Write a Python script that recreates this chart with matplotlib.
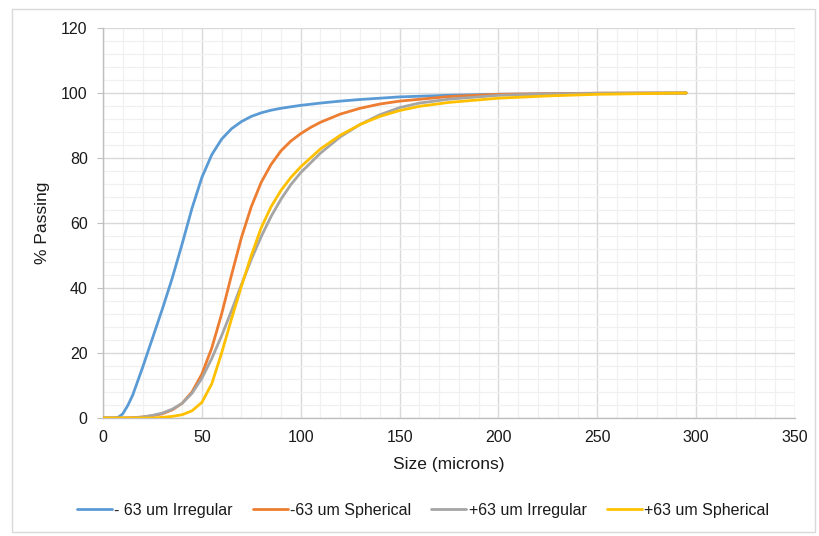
import matplotlib
matplotlib.use("Agg")
import matplotlib.pyplot as plt
from matplotlib.patches import Rectangle
from matplotlib.ticker import MultipleLocator

plt.rcParams['font.family'] = ['Liberation Sans', 'DejaVu Sans']

# particle size distributions
irr_fine_x = [0, 5, 7.5, 10, 12.5, 15, 20, 25, 30, 35, 40, 45, 50, 55, 60, 65, 70,
              75, 80, 85, 90, 100, 110, 120, 130, 140, 150, 175, 200, 250, 295]
irr_fine_y = [0, 0, 0.1, 1.3, 3.8, 7, 15.5, 24.5, 33.5, 43, 53.5, 64.5, 74, 81,
              85.8, 89, 91.2, 92.8, 93.9, 94.7, 95.3, 96.2, 96.9, 97.5, 98, 98.4,
              98.8, 99.3, 99.6, 99.9, 100]

sph_fine_x = [0, 10, 15, 20, 25, 30, 35, 40, 45, 50, 55, 60, 65, 70, 75, 80, 85,
              90, 95, 100, 105, 110, 120, 130, 140, 150, 175, 200, 250, 295]
sph_fine_y = [0, 0, 0.1, 0.3, 0.7, 1.3, 2.5, 4.5, 8, 13.5, 21.5, 32, 44, 55.5, 65,
              72.5, 78, 82.2, 85.2, 87.5, 89.4, 91, 93.5, 95.3, 96.6, 97.5, 98.9,
              99.6, 99.95, 100]

irr_coarse_x = [0, 15, 20, 25, 30, 35, 40, 45, 50, 55, 60, 65, 70, 75, 80, 85, 90,
                95, 100, 110, 120, 130, 140, 150, 160, 175, 200, 225, 250, 295]
irr_coarse_y = [0, 0, 0.3, 0.8, 1.5, 2.7, 4.5, 7.6, 12.2, 18.3, 25.3, 33, 41, 48.8,
                55.8, 62, 67.3, 71.8, 75.5, 81.5, 86.5, 90.3, 93.3, 95.5, 96.9, 98.1,
                99.3, 99.7, 99.9, 100]

sph_coarse_x = [0, 25, 30, 35, 40, 45, 50, 55, 60, 65, 70, 75, 80, 85, 90, 95, 100,
                110, 120, 130, 140, 150, 160, 175, 200, 225, 250, 295]
sph_coarse_y = [0, 0, 0.2, 0.5, 1, 2.2, 4.8, 10.5, 20, 30.5, 40.5, 50, 58.5, 65,
                70, 74, 77.3, 82.8, 87, 90.3, 92.8, 94.6, 95.9, 97.1, 98.4, 99.1,
                99.6, 100]

labels = ['- 63 um Irregular', '-63 um Spherical', '+63 um Irregular', '+63 um Spherical']
colors = ['#5B9BD5', '#ED7D31', '#A5A5A5', '#FFC000']

fig = plt.figure(figsize=(8.19, 5.36), dpi=100)
ax = fig.add_axes([103 / 819, 1 - 418 / 536, 692 / 819, 390 / 536])

series = [(irr_fine_x, irr_fine_y), (sph_fine_x, sph_fine_y),
          (irr_coarse_x, irr_coarse_y), (sph_coarse_x, sph_coarse_y)]
for (xs, ys), lab, c in zip(series, labels, colors):
    ax.plot(xs, ys, color=c, lw=2.0, label=lab, solid_joinstyle='round',
            solid_capstyle='round', zorder=3)

ax.set_xlim(0, 350)
ax.set_ylim(0, 120)
ax.xaxis.set_major_locator(MultipleLocator(50))
ax.xaxis.set_minor_locator(MultipleLocator(10))
ax.yaxis.set_major_locator(MultipleLocator(20))
ax.yaxis.set_minor_locator(MultipleLocator(4))
ax.grid(which='major', color='#d9d9d9', lw=1.0)
ax.grid(which='minor', color='#f0f0f0', lw=0.9)
ax.set_axisbelow(True)

for s in ['top', 'right']:
    ax.spines[s].set_visible(False)
for s in ['left', 'bottom']:
    ax.spines[s].set_color('#bfbfbf')
    ax.spines[s].set_linewidth(1.0)

ax.tick_params(axis='y', which='major', length=4, color='#bfbfbf', pad=7,
               labelsize=11.5, labelcolor='#1a1a1a')
ax.tick_params(axis='x', which='major', length=0, pad=9,
               labelsize=11.5, labelcolor='#1a1a1a')
ax.tick_params(which='minor', length=0)

fig.text(42 / 819, 1 - 223 / 536, '% Passing', rotation=90, ha='center', va='center',
         fontsize=12.5, color='#1a1a1a')
fig.text(449 / 819, 1 - 465 / 536, 'Size (microns)', ha='center', va='center',
         fontsize=12.5, color='#1a1a1a')

fig.legend(loc='center', bbox_to_anchor=(423 / 819, 1 - 510 / 536), ncol=4,
           frameon=False, fontsize=11.5, handlelength=2.2, handletextpad=0.15,
           columnspacing=1.25, labelcolor='#1a1a1a')

fig.patches.append(Rectangle((12 / 819, 1 - 532 / 536), 803 / 819, 523 / 536,
                             transform=fig.transFigure, fill=False,
                             edgecolor='#d9d9d9', lw=1.0))

fig.savefig('out.png', dpi=100)
